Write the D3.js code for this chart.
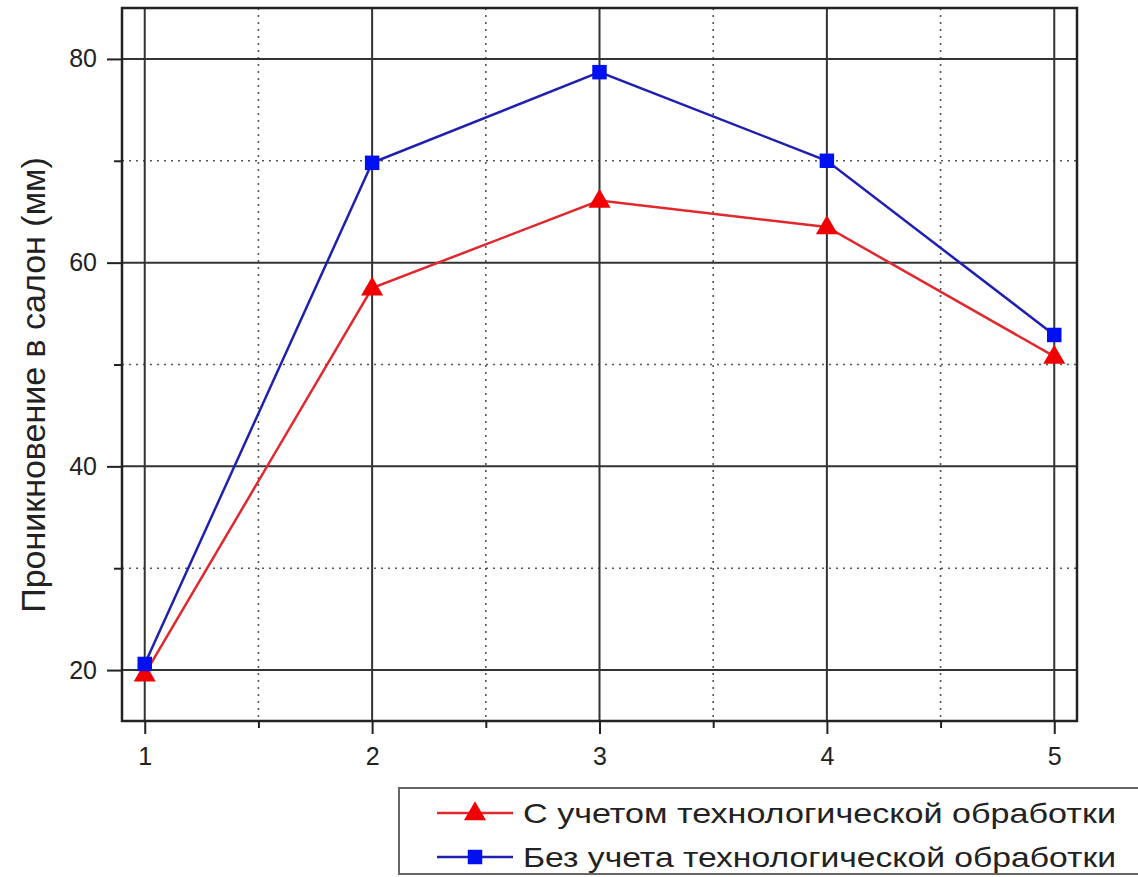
<!DOCTYPE html>
<html>
<head>
<meta charset="utf-8">
<script src="https://cdn.jsdelivr.net/npm/d3@7"></script>
<style>
  body { margin: 0; background: #fff; }
  text { font-family: "Liberation Sans", Arial, sans-serif; fill: #222; }
</style>
</head>
<body>
<div id="chart"></div>
<script>
const xValues = [1, 2, 3, 4, 5];
const withTreatment = [19.6, 57.5, 66.1, 63.5, 50.8];
const withoutTreatment = [20.6, 69.8, 78.7, 70.0, 52.9];
const yMajor = [20, 40, 60, 80];
const yMinor = [30, 50, 70];
const xMajor = [1, 2, 3, 4, 5];
const xMinor = [1.5, 2.5, 3.5, 4.5];
const seriesNames = ["С учетом технологической обработки", "Без учета технологической обработки"];
const yLabel = "Проникновение в салон (мм)";

const width = 1138, height = 877;
const plot = { left: 122, top: 8, right: 1077, bottom: 721 };

const svg = d3.select("#chart").append("svg")
    .attr("width", width)
    .attr("height", height);

const x = d3.scaleLinear().domain([0.9, 5.1]).range([plot.left, plot.right]);
const y = d3.scaleLinear().domain([15, 85]).range([plot.bottom, plot.top]);

// сетка
const grid = svg.append("g");
grid.selectAll(".gy-minor").data(yMinor).enter().append("line")
    .attr("x1", plot.left).attr("x2", plot.right)
    .attr("y1", d => y(d)).attr("y2", d => y(d))
    .attr("stroke", "#555").attr("stroke-width", 1.6).attr("stroke-dasharray", "2,5");
grid.selectAll(".gx-minor").data(xMinor).enter().append("line")
    .attr("y1", plot.top).attr("y2", plot.bottom)
    .attr("x1", d => x(d)).attr("x2", d => x(d))
    .attr("stroke", "#555").attr("stroke-width", 1.6).attr("stroke-dasharray", "2,5");
grid.selectAll(".gy-major").data(yMajor).enter().append("line")
    .attr("x1", plot.left).attr("x2", plot.right)
    .attr("y1", d => y(d)).attr("y2", d => y(d))
    .attr("stroke", "#333").attr("stroke-width", 2);
grid.selectAll(".gx-major").data(xMajor).enter().append("line")
    .attr("y1", plot.top).attr("y2", plot.bottom)
    .attr("x1", d => x(d)).attr("x2", d => x(d))
    .attr("stroke", "#333").attr("stroke-width", 2);

// рамка
svg.append("rect")
    .attr("x", plot.left).attr("y", plot.top)
    .attr("width", plot.right - plot.left).attr("height", plot.bottom - plot.top)
    .attr("fill", "none").attr("stroke", "#222").attr("stroke-width", 2.5);

// оси
svg.append("g")
    .attr("transform", `translate(${plot.left},0)`)
    .call(d3.axisLeft(y).tickValues(yMajor).tickSize(15).tickPadding(10).tickFormat(d3.format("d")));
svg.append("g")
    .attr("transform", `translate(${plot.left},0)`)
    .call(d3.axisLeft(y).tickValues(yMinor).tickSize(8).tickFormat(""));
svg.append("g")
    .attr("transform", `translate(0,${plot.bottom})`)
    .call(d3.axisBottom(x).tickValues(xMajor).tickSize(13).tickPadding(13).tickFormat(d3.format("d")));
svg.append("g")
    .attr("transform", `translate(0,${plot.bottom})`)
    .call(d3.axisBottom(x).tickValues(xMinor).tickSize(7).tickFormat(""));

svg.selectAll(".domain").remove();
svg.selectAll(".tick line").attr("stroke", "#222").attr("stroke-width", 2);
svg.selectAll(".tick text")
    .attr("font-size", 25)
    .attr("font-family", "Liberation Sans, Arial, sans-serif")
    .attr("fill", "#222");

svg.append("text")
    .attr("transform", "translate(45,385) rotate(-90)")
    .attr("text-anchor", "middle")
    .attr("font-size", 34)
    .text(yLabel);

// линии и маркеры
const line = d3.line().x((d, i) => x(xValues[i])).y(d => y(d));
const triangle = d3.symbol().type(d3.symbolTriangle).size(210);
const square = d3.symbol().type(d3.symbolSquare).size(210);

svg.append("path").datum(withTreatment)
    .attr("d", line).attr("fill", "none").attr("stroke", "#e0282e").attr("stroke-width", 2.5);
svg.append("path").datum(withoutTreatment)
    .attr("d", line).attr("fill", "none").attr("stroke", "#2020b0").attr("stroke-width", 2.5);

svg.selectAll(".tri").data(withTreatment).enter().append("path")
    .attr("d", triangle)
    .attr("transform", (d, i) => `translate(${x(xValues[i])},${y(d) + 1})`)
    .attr("fill", "#f00000");
svg.selectAll(".sq").data(withoutTreatment).enter().append("path")
    .attr("d", square)
    .attr("transform", (d, i) => `translate(${x(xValues[i])},${y(d)})`)
    .attr("fill", "#0010f0");

// легенда
const legend = svg.append("g").attr("transform", "translate(399,788)");
legend.append("rect")
    .attr("width", 745).attr("height", 86)
    .attr("fill", "#fff").attr("stroke", "#666").attr("stroke-width", 2);

const items = [
    { name: seriesNames[0], color: "#e0282e", mark: "#f00000", symbol: triangle, dy: 1 },
    { name: seriesNames[1], color: "#2020b0", mark: "#0010f0", symbol: square, dy: 0 }
];
items.forEach((it, i) => {
    const g = legend.append("g").attr("transform", `translate(0,${25 + i * 44})`);
    g.append("line").attr("x1", 38).attr("x2", 114).attr("stroke", it.color).attr("stroke-width", 2.5);
    g.append("path").attr("d", it.symbol).attr("transform", `translate(76,${it.dy})`).attr("fill", it.mark);
    g.append("text").attr("x", 124).attr("y", 10)
        .attr("font-size", 28)
        .attr("textLength", 593).attr("lengthAdjust", "spacingAndGlyphs")
        .text(it.name);
});
</script>
</body>
</html>
